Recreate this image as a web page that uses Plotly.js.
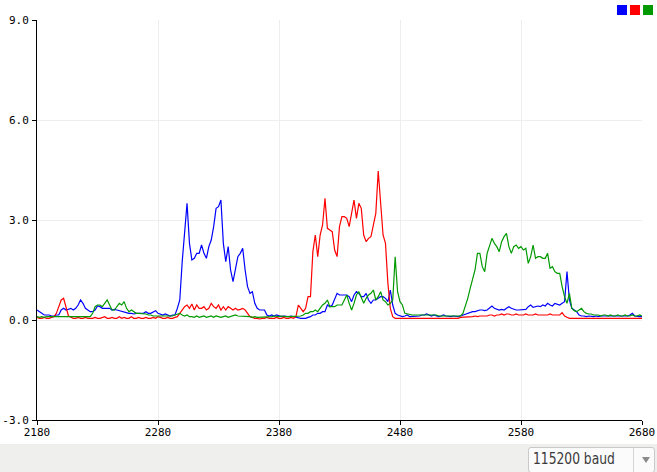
<!DOCTYPE html>
<html>
<head>
<meta charset="utf-8">
<script src="https://cdn.plot.ly/plotly-3.0.1.min.js"></script>
<style>
  html, body { margin: 0; padding: 0; background: #ffffff; width: 657px; height: 472px; overflow: hidden; }
  #plot { width: 657px; height: 444px; }
  #bar { position: absolute; left: 0; top: 444px; width: 657px; height: 28px; background: #efefee; }
  #baud { position: absolute; left: 528px; top: 447px; width: 127px; height: 26px; background: #fbfbfb;
          border: 1px solid #c9c9c9; border-radius: 3px; box-sizing: border-box; }
  #baudtxt { position: absolute; left: 4px; top: 2px; font-family: "DejaVu Sans", sans-serif;
             font-size: 15px; color: #3a3a3a; transform: scaleX(0.82); transform-origin: 0 0; white-space: nowrap; }
  #sep { position: absolute; left: 104px; top: 0px; width: 1px; height: 26px; background: #d6d6d6; }
  #arrow { position: absolute; left: 113px; top: 9px; width: 0; height: 0; border-left: 4px solid transparent;
           border-right: 4px solid transparent; border-top: 6px solid #8a8a8a; }
</style>
</head>
<body>
<div id="plot"></div>
<div id="bar"></div>
<div id="baud"><div id="baudtxt">115200 baud</div><div id="sep"></div><div id="arrow"></div></div>
<script>
// sample index axis (every 2nd sample)
const xValues = [
2180,2182,2184,2186,2188,2190,2192,2194,2196,2198,2200,2202,2204,2206,2208,2210,2212,2214,2216,2218,
2220,2222,2224,2226,2228,2230,2232,2234,2236,2238,2240,2242,2244,2246,2248,2250,2252,2254,2256,2258,
2260,2262,2264,2266,2268,2270,2272,2274,2276,2278,2280,2282,2284,2286,2288,2290,2292,2294,2296,2298,
2300,2302,2304,2306,2308,2310,2312,2314,2316,2318,2320,2322,2324,2326,2328,2330,2332,2334,2336,2338,
2340,2342,2344,2346,2348,2350,2352,2354,2356,2358,2360,2362,2364,2366,2368,2370,2372,2374,2376,2378,
2380,2382,2384,2386,2388,2390,2392,2394,2396,2398,2400,2402,2404,2406,2408,2410,2412,2414,2416,2418,
2420,2422,2424,2426,2428,2430,2432,2434,2436,2438,2440,2442,2444,2446,2448,2450,2452,2454,2456,2458,
2460,2462,2464,2466,2468,2470,2472,2474,2476,2478,2480,2482,2484,2486,2488,2490,2492,2494,2496,2498,
2500,2502,2504,2506,2508,2510,2512,2514,2516,2518,2520,2522,2524,2526,2528,2530,2532,2534,2536,2538,
2540,2542,2544,2546,2548,2550,2552,2554,2556,2558,2560,2562,2564,2566,2568,2570,2572,2574,2576,2578,
2580,2582,2584,2586,2588,2590,2592,2594,2596,2598,2600,2602,2604,2606,2608,2610,2612,2614,2616,2618,
2620,2622,2624,2626,2628,2630,2632,2634,2636,2638,2640,2642,2644,2646,2648,2650,2652,2654,2656,2658,
2660,2662,2664,2666,2668,2670,2672,2674,2676,2678,2680];

const blueValues = [
0.3,0.25,0.2,0.15,0.15,0.15,0.12,0.12,0.15,0.15,0.3,0.35,0.3,0.32,0.35,0.3,0.35,0.45,0.6,0.5,
0.35,0.3,0.25,0.25,0.3,0.42,0.4,0.35,0.35,0.35,0.35,0.3,0.32,0.3,0.28,0.25,0.25,0.22,0.2,0.2,
0.18,0.2,0.2,0.18,0.2,0.25,0.2,0.2,0.25,0.28,0.2,0.18,0.15,0.18,0.15,0.12,0.15,0.15,0.35,0.6,
1.75,2.6,3.5,2.3,1.8,1.85,2.0,2.0,2.25,2.0,1.85,2.2,2.4,2.8,3.35,3.4,3.6,2.3,1.75,2.2,
1.5,1.15,1.5,1.9,2.0,2.15,1.5,1.0,0.8,0.85,0.5,0.35,0.3,0.3,0.3,0.15,0.12,0.15,0.12,0.15,
0.12,0.1,0.12,0.1,0.1,0.12,0.1,0.08,0.05,0.05,0.05,0.05,0.08,0.1,0.15,0.15,0.2,0.2,0.25,0.25,
0.45,0.4,0.45,0.6,0.8,0.75,0.75,0.75,0.75,0.7,0.55,0.75,0.85,0.8,0.7,0.7,0.8,0.6,0.5,0.6,
0.6,0.65,0.7,0.7,0.65,0.55,0.9,0.45,0.2,0.15,0.12,0.1,0.12,0.15,0.1,0.1,0.1,0.12,0.12,0.15,
0.15,0.18,0.15,0.12,0.15,0.12,0.1,0.12,0.15,0.12,0.1,0.1,0.12,0.1,0.1,0.12,0.15,0.18,0.2,0.22,
0.25,0.25,0.28,0.3,0.3,0.28,0.3,0.35,0.42,0.35,0.32,0.3,0.32,0.3,0.35,0.4,0.35,0.32,0.3,0.3,
0.3,0.3,0.32,0.4,0.45,0.38,0.4,0.42,0.4,0.45,0.42,0.5,0.45,0.42,0.5,0.48,0.45,0.5,0.55,1.45,
0.6,0.35,0.3,0.25,0.15,0.12,0.12,0.1,0.12,0.1,0.1,0.12,0.1,0.12,0.12,0.1,0.1,0.12,0.1,0.12,
0.1,0.12,0.12,0.1,0.12,0.15,0.2,0.12,0.1,0.1,0.1];

const redValues = [
0.08,0.05,0.05,0.08,0.05,0.05,0.08,0.1,0.2,0.4,0.6,0.65,0.35,0.12,0.08,0.05,0.05,0.08,0.05,0.05,
0.08,0.05,0.05,0.05,0.08,0.05,0.05,0.08,0.1,0.05,0.05,0.08,0.05,0.05,0.1,0.05,0.08,0.05,0.05,0.1,
0.05,0.05,0.08,0.05,0.05,0.08,0.05,0.05,0.08,0.05,0.1,0.08,0.05,0.05,0.08,0.05,0.05,0.08,0.1,0.2,
0.3,0.4,0.45,0.35,0.48,0.3,0.45,0.35,0.35,0.4,0.3,0.35,0.5,0.4,0.35,0.45,0.3,0.4,0.3,0.4,
0.35,0.3,0.35,0.3,0.32,0.35,0.3,0.2,0.1,0.08,0.05,0.05,0.03,0.05,0.05,0.08,0.05,0.05,0.05,0.08,
0.05,0.05,0.08,0.05,0.05,0.08,0.05,0.1,0.45,0.35,0.25,0.35,0.7,0.7,2.05,2.55,1.9,2.55,2.85,3.65,
2.75,2.7,2.65,2.1,1.9,2.8,3.1,3.1,3.05,2.8,3.2,3.6,3.05,3.5,3.35,2.55,2.35,2.45,2.5,2.85,
3.2,4.47,3.4,2.55,2.3,1.1,0.35,0.1,0.05,0.05,0.03,0.03,0.05,0.03,0.05,0.03,0.03,0.05,0.03,0.03,
0.05,0.03,0.03,0.05,0.03,0.03,0.05,0.03,0.03,0.05,0.03,0.03,0.05,0.03,0.05,0.08,0.08,0.1,0.08,0.1,
0.1,0.12,0.1,0.12,0.12,0.1,0.12,0.15,0.15,0.12,0.15,0.15,0.18,0.15,0.18,0.18,0.15,0.15,0.18,0.15,
0.15,0.15,0.18,0.15,0.15,0.15,0.18,0.15,0.15,0.15,0.15,0.15,0.18,0.15,0.15,0.15,0.15,0.22,0.12,0.08,
0.05,0.05,0.05,0.03,0.05,0.05,0.05,0.03,0.05,0.05,0.05,0.05,0.03,0.05,0.05,0.05,0.05,0.03,0.05,0.05,
0.05,0.05,0.03,0.05,0.05,0.05,0.05,0.05,0.03,0.05,0.05];

const greenValues = [
0.1,0.08,0.1,0.08,0.1,0.1,0.08,0.1,0.08,0.1,0.08,0.1,0.1,0.08,0.1,0.08,0.1,0.1,0.08,0.1,
0.08,0.1,0.1,0.2,0.4,0.45,0.45,0.4,0.5,0.6,0.45,0.3,0.3,0.4,0.5,0.45,0.55,0.35,0.25,0.3,
0.25,0.2,0.2,0.2,0.2,0.18,0.15,0.15,0.12,0.12,0.1,0.12,0.1,0.1,0.12,0.1,0.12,0.15,0.18,0.2,
0.15,0.12,0.15,0.1,0.1,0.08,0.12,0.08,0.1,0.12,0.08,0.1,0.12,0.08,0.12,0.1,0.08,0.1,0.12,0.08,
0.1,0.12,0.15,0.12,0.12,0.1,0.12,0.1,0.1,0.08,0.1,0.08,0.08,0.1,0.1,0.08,0.1,0.1,0.12,0.1,
0.1,0.12,0.1,0.1,0.1,0.1,0.1,0.12,0.1,0.12,0.15,0.2,0.2,0.25,0.25,0.3,0.25,0.35,0.45,0.5,
0.6,0.4,0.4,0.4,0.45,0.45,0.45,0.6,0.75,0.5,0.3,0.5,0.75,0.85,0.65,0.5,0.65,0.75,0.8,0.9,
0.6,0.7,0.85,0.6,0.55,0.45,0.5,0.6,1.9,0.85,0.55,0.45,0.2,0.18,0.15,0.15,0.15,0.15,0.15,0.15,
0.15,0.15,0.15,0.15,0.15,0.15,0.12,0.12,0.12,0.12,0.12,0.12,0.12,0.12,0.12,0.12,0.2,0.4,0.65,0.95,
1.2,1.5,2.0,2.0,1.6,1.45,2.0,2.2,2.45,2.3,2.2,2.05,2.35,2.5,2.6,2.2,2.0,2.2,2.25,2.15,
2.2,2.1,2.15,1.7,1.9,2.25,1.85,1.9,1.9,1.85,1.85,2.0,1.55,1.6,1.45,1.4,1.4,1.0,0.7,0.5,
0.8,0.35,0.28,0.25,0.3,0.35,0.25,0.2,0.18,0.18,0.15,0.15,0.15,0.12,0.15,0.15,0.12,0.15,0.12,0.12,
0.15,0.12,0.12,0.15,0.12,0.12,0.15,0.12,0.12,0.15,0.12];

const xTicks = [2180, 2280, 2380, 2480, 2580, 2680];
const yTicks = [-3, 0, 3, 6, 9];
const yTickText = ["-3.0", "0.0", "3.0", "6.0", "9.0"];
const seriesColors = ["#0000ff", "#ff0000", "#009900"];

const traces = [blueValues, redValues, greenValues].map((vals, i) => ({
  x: xValues, y: vals, type: "scatter", mode: "lines",
  line: { color: seriesColors[i], width: 1.2 }, hoverinfo: "skip", showlegend: false
}));

const legendShapes = seriesColors.map((c, i) => ({
  type: "rect", xref: "paper", yref: "paper",
  x0: 0.9587 + i * 0.0215, x1: 0.9752 + i * 0.0215, y0: 1.0125, y1: 1.0375,
  fillcolor: c, line: { width: 0 }
}));

const axisFont = { family: "DejaVu Sans Mono, monospace", size: 11, color: "#000000" };

const layout = {
  width: 657, height: 444,
  margin: { l: 37, r: 15, t: 20, b: 24 },
  paper_bgcolor: "#ffffff", plot_bgcolor: "#ffffff",
  showlegend: false,
  xaxis: {
    range: [2180, 2680], tickmode: "array", tickvals: xTicks, ticktext: xTicks.map(String),
    showgrid: true, gridcolor: "#eeeeee", gridwidth: 1, zeroline: false,
    showline: true, linecolor: "#000000", linewidth: 1,
    ticks: "outside", ticklen: 4, tickcolor: "#000000", tickfont: axisFont, ticklabelstandoff: -2
  },
  yaxis: {
    range: [-3, 9], tickmode: "array", tickvals: yTicks, ticktext: yTickText,
    showgrid: true, gridcolor: "#eeeeee", gridwidth: 1, zeroline: false,
    showline: true, linecolor: "#000000", linewidth: 1,
    ticks: "outside", ticklen: 4, tickcolor: "#000000", tickfont: axisFont, ticklabelstandoff: 1
  },
  xaxis2: {
    overlaying: "x", anchor: "y", range: [2180, 2680], tickmode: "array", tickvals: xTicks,
    showticklabels: false, showgrid: false, zeroline: false, showline: false,
    ticks: "inside", ticklen: 4, tickcolor: "#000000"
  },
  yaxis2: {
    overlaying: "y", anchor: "x", side: "left", range: [-3, 9], tickmode: "array", tickvals: yTicks,
    showticklabels: false, showgrid: false, zeroline: false, showline: false,
    ticks: "inside", ticklen: 4, tickcolor: "#000000"
  },
  shapes: legendShapes
};

Plotly.newPlot("plot", traces, layout, { staticPlot: true, displayModeBar: false });
</script>
</body>
</html>
